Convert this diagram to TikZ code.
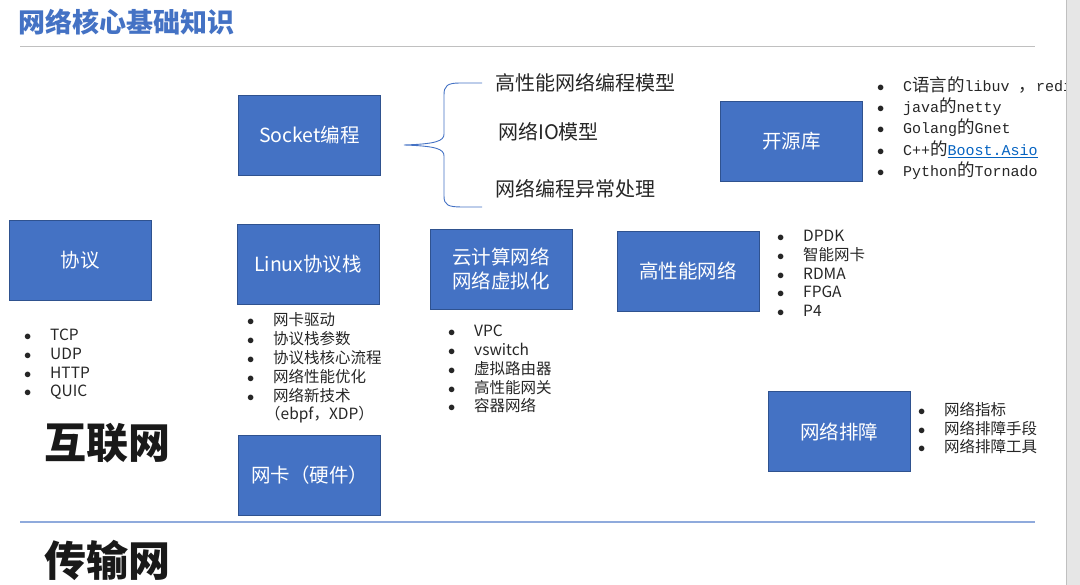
\documentclass[tikz,border=0pt]{standalone}
\usepackage{fontspec}
\setmainfont{Noto Sans CJK SC}
\setmonofont{Liberation Mono}
\usepackage{xcolor}
\usetikzlibrary{positioning}
\definecolor{boxblue}{HTML}{4472C4}
\definecolor{boxedge}{HTML}{2F528F}
\definecolor{ink}{HTML}{262626}
\definecolor{rulegray}{HTML}{C0C0C0}
\definecolor{ruleblue}{HTML}{8FAADC}
\definecolor{linkblue}{HTML}{0563C1}
\definecolor{stripgray}{HTML}{E6E6E6}
\newcommand{\bl}{\makebox[26pt][l]{$\bullet$}}
\newcommand{\zh}[1]{{\rmfamily\fontsize{17.5}{19}\selectfont #1}}
\newcommand{\weblink}[1]{{\color{linkblue}\underline{#1}}}

\begin{document}
\begin{tikzpicture}[x=1pt, y=-1pt,
  box/.style={draw=boxedge, line width=0.9pt, fill=boxblue, text=white,
    minimum width=142pt, minimum height=80pt, inner sep=0pt, align=center,
    font=\fontsize{19.5}{24.5}\selectfont},
  item/.style={anchor=west, inner sep=0pt, text=ink,
    font=\fontsize{15.5}{19}\selectfont},
  monoitem/.style={item, font=\ttfamily\fontsize{15}{19}\selectfont},
  branch/.style={anchor=west, inner sep=0pt, text=ink,
    font=\fontsize{20}{24}\selectfont},
  bigword/.style={anchor=west, inner sep=0pt, text=black!90,
    font=\bfseries\fontsize{42}{46}\selectfont}]
  \useasboundingbox (0,0) rectangle (1080,585);

  % title and rules
  \node[anchor=west, inner sep=0pt, text=boxblue, font=\bfseries\fontsize{27}{30}\selectfont]
    (title) at (18,22) {网络核心基础知识};
  \draw[rulegray, line width=1pt] (20,47) -- (1035,47);
  \draw[ruleblue, line width=1.3pt] (20,522) -- (1035,522);

  % main boxes
  \node[box] (proto) at (80,260) {协议};
  \node[box] (sock) at (309.5,135) {Socket编程};
  \node[box] (linux) at (308,264.5) {Linux协议栈};
  \node[box] (cloud) at (501,269) {云计算网络\\网络虚拟化};
  \node[box] (perf) at (688,271) {高性能网络};
  \node[box] (oss) at (791.5,141.5) {开源库};
  \node[box] (diag) at (839,431.5) {网络排障};
  \node[box] (nic) at (309.5,475) {网卡（硬件）};

  % socket brace
  \coordinate (btip) at (404,145);
  \coordinate (btop) at (482,83);
  \coordinate (bbot) at (482,207);
  \draw[boxblue, line width=0.9pt] (btop) -- (460,83)
    .. controls (447,83) and (444,86) .. (444,95) -- (444,134)
    .. controls (444,141) and (436,144) .. (btip)
    .. controls (436,146) and (444,149) .. (444,156) -- (444,196)
    .. controls (444,205) and (448,207) .. (462,207) -- (bbot);
  \node[branch] (model) at (495,83) {高性能网络编程模型};
  \node[branch] (iomodel) at (498,132) {网络IO模型};
  \node[branch] (errors) at (495,189) {网络编程异常处理};

  % bullet lists
  \foreach \t [count=\i] in {TCP,UDP,HTTP,QUIC}
    \node[item] (proto\i) at (24,{316+19*\i}) {\bl\t};
  \foreach \t [count=\i] in {网卡驱动,协议栈参数,协议栈核心流程,网络性能优化,网络新技术}
    \node[item] (linux\i) at (247,{301+19*\i}) {\bl\t};
  \node[item] (linux6) at (265,415) {（ebpf，XDP）};
  \foreach \t [count=\i] in {VPC,vswitch,虚拟路由器,高性能网关,容器网络}
    \node[item] (cloud\i) at (448,{312.2+18.75*\i}) {\bl\t};
  \foreach \t [count=\i] in {DPDK,智能网卡,RDMA,FPGA,P4}
    \node[item] (perf\i) at (777,{217+18.8*\i}) {\bl\t};
  \foreach \t [count=\i] in {网络指标,网络排障手段,网络排障工具}
    \node[item] (diag\i) at (918,{391.5+18.5*\i}) {\bl\t};
  \foreach \t [count=\i] in {{C\zh{语言的}libuv \zh{，}redis},java\zh{的}netty,
      Golang\zh{的}Gnet,{C++\zh{的}\weblink{Boost.Asio}},Python\zh{的}Tornado}
    \node[monoitem] (oss\i) at (877,{63.5+21.5*\i}) {\bl\t};

  % section words
  \node[bigword] (internet) at (44,443) {互联网};
  \node[bigword] (transport) at (44,560) {传输网};

  % right margin strip
  \fill[stripgray] (1066,0) rectangle (1080,585);
  \draw[rulegray, line width=1pt] (1066,0) -- (1066,585);
\end{tikzpicture}
\end{document}
